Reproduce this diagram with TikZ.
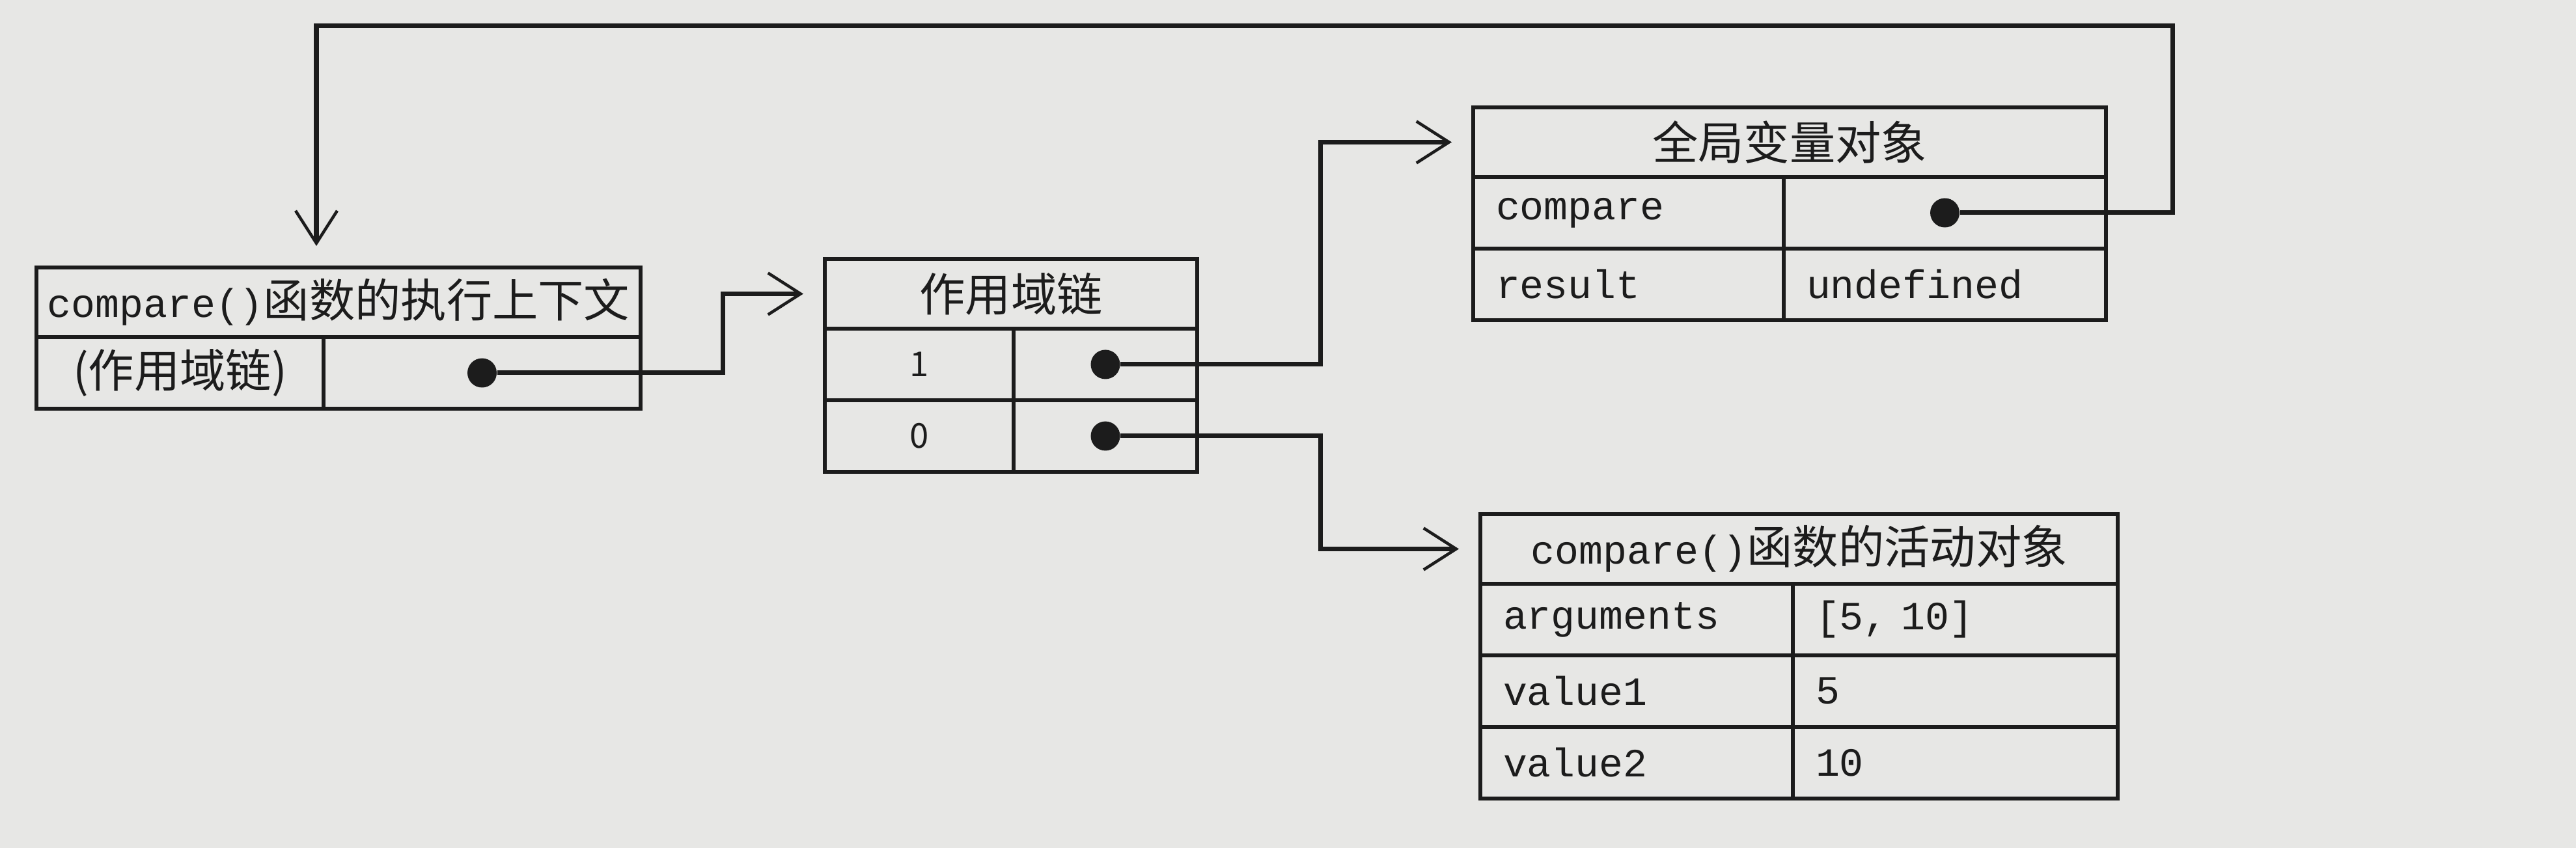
\documentclass[tikz,border=0pt]{standalone}
\usepackage{fontspec}
\setmainfont{Noto Sans CJK SC}
\setmonofont{Liberation Mono}
\usepackage{tikz}
\usetikzlibrary{arrows.meta,positioning}
\definecolor{paper}{RGB}{231,231,229}
\definecolor{ink}{RGB}{28,28,28}
\newcommand{\jscode}[1]{{\ttfamily\fontsize{17.5}{21}\selectfont #1}}

\begin{document}
\begin{tikzpicture}[
    every node/.style={font=\fontsize{20}{24}\selectfont,text=ink},
    cell/.style={
        draw=ink,
        line width=1.6pt,
        inner sep=0pt,
        outer sep=0pt,
        anchor=north west,
        minimum height=1.1cm
    },
    tablehead/.style={cell,minimum width=#1,minimum height=1.07cm},
    plaincell/.style={cell,minimum width=#1},
    namecell/.style={
        cell,
        minimum width=#1,
        text width=#1-0.7cm,
        inner xsep=0.35cm,
        align=left,
        font=\ttfamily\fontsize{17.5}{21}\selectfont
    },
    ptr/.style={circle,fill=ink,inner sep=0pt,minimum size=0.45cm},
    pointer/.style={
        draw=ink,
        line width=2pt,
        -{Straight Barb[length=5mm,width=6.4mm,line width=1.3pt]},
        shorten >=0.33cm
    }
]

% page
\fill[paper] (0,0) rectangle (39.57,13.03);

% Execution context
\node[tablehead=9.28cm] (ahead) at (0.56,8.92) {\jscode{compare()}函数的执行上下文};
\node[plaincell=4.41cm] (akey) at (ahead.south west) {(作用域链)};
\node[plaincell=4.87cm, right=0pt of akey] (aval) {};
\node[ptr] (adot) at (aval) {};

% Scope chain
\node[tablehead=5.72cm] (bhead) at (12.67,9.05) {作用域链};
\node[plaincell=2.90cm, font=\fontsize{15}{18}\selectfont] (bkey1) at (bhead.south west) {1};
\node[plaincell=2.82cm, right=0pt of bkey1] (bval1) {};
\node[plaincell=2.90cm, font=\fontsize{15}{18}\selectfont, below=0pt of bkey1] (bkey0) {0};
\node[plaincell=2.82cm, right=0pt of bkey0] (bval0) {};
\node[ptr] (bdot1) at (bval1) {};
\node[ptr] (bdot0) at (bval0) {};

% Global variable object
\node[tablehead=9.72cm] (chead) at (22.63,11.38) {全局变量对象};
\node[namecell=4.77cm] (ckey1) at (chead.south west) {compare};
\node[namecell=4.95cm, right=0pt of ckey1] (cval1) {};
\node[namecell=4.77cm, below=0pt of ckey1] (ckey2) {result};
\node[namecell=4.95cm, right=0pt of ckey2] (cval2) {undefined};
\node[ptr] (cdot) at (cval1) {};

% Activation object
\node[tablehead=9.79cm] (dhead) at (22.74,5.13) {\jscode{compare()}函数的活动对象};
\node[namecell=4.80cm] (dkey1) at (dhead.south west) {arguments};
\node[namecell=4.99cm, right=0pt of dkey1] (dval1) {[5, 10]};
\node[namecell=4.80cm, below=0pt of dkey1] (dkey2) {value1};
\node[namecell=4.99cm, right=0pt of dkey2] (dval2) {5};
\node[namecell=4.80cm, below=0pt of dkey2] (dkey3) {value2};
\node[namecell=4.99cm, right=0pt of dkey3] (dval3) {10};

% Pointers
\draw[pointer] (adot) -- ++(3.7,0) |- (bhead.west);
\draw[pointer] (bdot1) -- ++(3.3,0) |- (chead.west);
\draw[pointer] (bdot0) -- ++(3.3,0) |- (dhead.west);
\draw[pointer] (cdot) -- ++(3.5,0) -- ++(0,2.87) -| ([xshift=-0.34cm]ahead.north);

\end{tikzpicture}
\end{document}
